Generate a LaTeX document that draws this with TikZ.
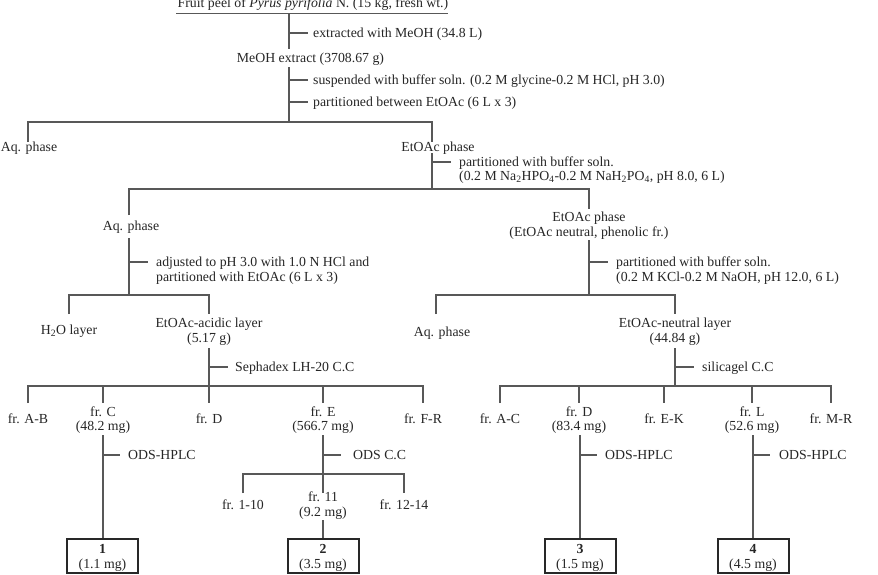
\documentclass[tikz,border=0pt]{standalone}
\usepackage{fontspec}
\setmainfont{Liberation Serif}
\definecolor{lnc}{RGB}{88,88,88}
\definecolor{txc}{RGB}{38,38,38}
\definecolor{bxc}{RGB}{40,40,40}
\newcommand{\fsz}{\fontsize{13.8}{14.5}\selectfont}
\begin{document}
\begin{tikzpicture}[x=1pt,y=-1pt,
  txt/.style={inner sep=0pt,text=txc,font=\fsz},
  lbl/.style={txt,anchor=base west,align=left},
  nd/.style={txt,anchor=base,align=center},
  ln/.style={draw=lnc,line width=1.1pt},
  resbox/.style={draw=bxc,line width=2pt,minimum width=71pt,minimum height=34pt,inner sep=0pt}]
\useasboundingbox (0,0) rectangle (878,574);
\fill[white] (0,0) rectangle (878,574);

% top
\node[nd] (fruit) at (313,7) {Fruit peel of \textit{Pyrus pyrifolia} N. (15 kg, fresh wt.)};
\draw[ln] (176,13.3) -- (448,13.3);
\draw[ln] (289,13.3) -- (289,49);
\draw[ln] (289,33) -- (308,33);
\node[lbl] (s1) at (313,37.5) {extracted with MeOH (34.8 L)};
\node[nd] (meoh) at (310.5,62.5) {MeOH extract (3708.67 g)};
\draw[ln] (289,67) -- (289,122);
\draw[ln] (289,80) -- (308,80);
\draw[ln] (289,102) -- (308,102);
\node[lbl] (s2) at (313,84.5) {suspended with buffer soln. (0.2 M glycine-0.2 M HCl, pH 3.0)};
\node[lbl] (s3) at (313,106.5) {partitioned between EtOAc (6 L x 3)};

% level 1
\draw[ln] (28,142) -- (28,122) -- (432,122) -- (432,142);
\node[nd] (aq1) at (29,151.7) {Aq. phase};
\node[nd] (et1) at (438,151.7) {EtOAc phase};
\draw[ln] (432,153) -- (432,189);
\draw[ln] (432,162) -- (451,162);
\node[lbl] (s4) at (459,180.5) {partitioned with buffer soln.\\(0.2 M Na\textsubscript{2}HPO\textsubscript{4}-0.2 M NaH\textsubscript{2}PO\textsubscript{4}, pH 8.0, 6 L)};

% level 2
\draw[ln] (129,215) -- (129,189) -- (589,189) -- (589,209);
\node[nd] (aq2) at (131,230.5) {Aq. phase};
\draw[ln] (129,238) -- (129,295);
\draw[ln] (129,262) -- (148,262);
\node[lbl] (s5) at (156,281) {adjusted to pH 3.0 with 1.0 N HCl and\\partitioned with EtOAc (6 L x 3)};
\node[nd] (et2) at (589,236) {EtOAc phase\\(EtOAc neutral, phenolic fr.)};
\draw[ln] (589,240) -- (589,295);
\draw[ln] (589,262) -- (608,262);
\node[lbl] (s6) at (616,281) {partitioned with buffer soln.\\(0.2 M KCl-0.2 M NaOH, pH 12.0, 6 L)};

% level 3 left
\draw[ln] (69,314) -- (69,295) -- (209,295) -- (209,314);
\node[nd] (h2o) at (69,334.3) {H\textsubscript{2}O layer};
\node[nd] (acid) at (209,342) {EtOAc-acidic layer\\(5.17 g)};
\draw[ln] (209,348) -- (209,403);
\draw[ln] (209,367) -- (228,367);
\node[lbl] (s7) at (235,371.5) {Sephadex LH-20 C.C};
\draw[ln] (28,403) -- (28,386) -- (423,386) -- (423,403);
\draw[ln] (103,386) -- (103,403);
\draw[ln] (323,386) -- (323,403);
\node[nd] (fAB) at (28,423.5) {fr. A-B};
\node[nd] (fC) at (103,430.5) {fr. C\\(48.2 mg)};
\node[nd] (fD) at (209,423.5) {fr. D};
\node[nd] (fE) at (323,430.5) {fr. E\\(566.7 mg)};
\node[nd] (fFR) at (423,423.5) {fr. F-R};

% level 3 right
\draw[ln] (436,314) -- (436,295) -- (675,295) -- (675,314);
\node[nd] (aq3) at (442,336) {Aq. phase};
\node[nd] (neut) at (675,342) {EtOAc-neutral layer\\(44.84 g)};
\draw[ln] (675,348) -- (675,386);
\draw[ln] (675,367) -- (694,367);
\node[lbl] (s8) at (702,371.5) {silicagel C.C};
\draw[ln] (500,403) -- (500,386) -- (831,386) -- (831,403);
\draw[ln] (579,386) -- (579,403);
\draw[ln] (664,386) -- (664,403);
\draw[ln] (752,386) -- (752,403);
\node[nd] (fAC) at (500,423.5) {fr. A-C};
\node[nd] (fD2) at (579,430.5) {fr. D\\(83.4 mg)};
\node[nd] (fEK) at (664,423.5) {fr. E-K};
\node[nd] (fL) at (752,430.5) {fr. L\\(52.6 mg)};
\node[nd] (fMR) at (831,423.5) {fr. M-R};

% bottom
\node[resbox] (c1) at (102.5,556) {};
\node[resbox] (c2) at (323,556) {};
\node[resbox] (c3) at (580,556) {};
\node[resbox] (c4) at (753,556) {};
\node[nd] (c1t) at (102.5,568.3) {\textbf{1}\\(1.1 mg)};
\node[nd] (c2t) at (323,568.3) {\textbf{2}\\(3.5 mg)};
\node[nd] (c3t) at (580,568.3) {\textbf{3}\\(1.5 mg)};
\node[nd] (c4t) at (753,568.3) {\textbf{4}\\(4.5 mg)};

\draw[ln] (103,435) -- (c1.north -| 103,0);
\draw[ln] (103,455) -- (120,455);
\node[lbl] (h1) at (128,459.5) {ODS-HPLC};

\draw[ln] (323,435) -- (323,493);
\draw[ln] (323,455) -- (341,455);
\node[lbl] (h2) at (353,459.5) {ODS C.C};
\draw[ln] (243,493) -- (243,474) -- (404,474) -- (404,493);
\node[nd] (f110) at (243,509.5) {fr. 1-10};
\node[nd] (f11) at (323,516) {fr. 11\\(9.2 mg)};
\node[nd] (f1214) at (404,509.5) {fr. 12-14};
\draw[ln] (323,520) -- (c2.north);

\draw[ln] (580,435) -- (c3.north);
\draw[ln] (580,455) -- (597,455);
\node[lbl] (h3) at (605,459.5) {ODS-HPLC};

\draw[ln] (753,435) -- (c4.north);
\draw[ln] (753,455) -- (770,455);
\node[lbl] (h4) at (779,459.5) {ODS-HPLC};
\end{tikzpicture}
\end{document}
